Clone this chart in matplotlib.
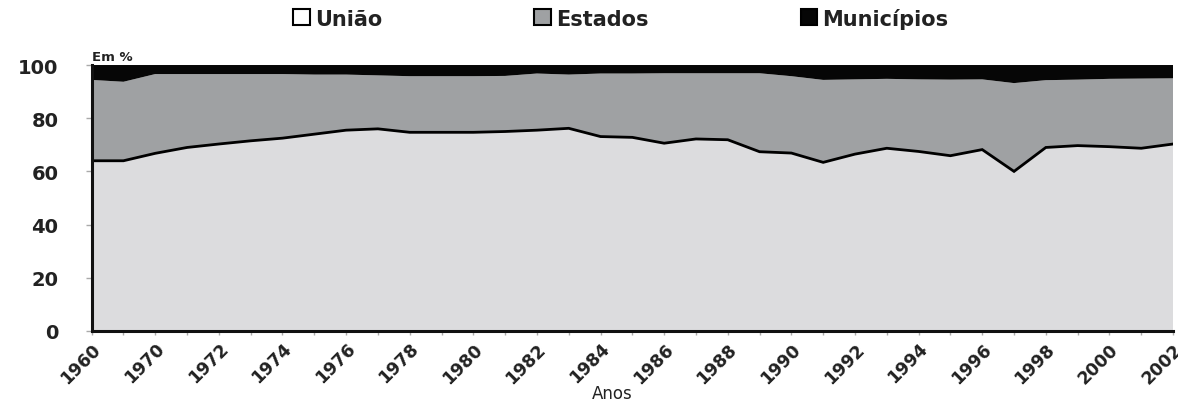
import matplotlib
matplotlib.use("Agg")
import matplotlib.pyplot as plt
from matplotlib.patches import Patch
import numpy as np

# Participação de cada esfera de governo na receita (em %)
anos = ["1960", "1965"] + [str(a) for a in range(1970, 2003)]

uniao = [64.0, 64.0, 66.8, 69.0, 70.3, 71.5, 72.5, 74.0, 75.5, 76.0,
         74.7, 74.7, 74.7, 75.0, 75.5, 76.2, 73.1, 72.8, 70.6, 72.2,
         71.9, 67.4, 66.9, 63.4, 66.5, 68.7, 67.5, 65.9, 68.2, 60.0,
         69.0, 69.7, 69.3, 68.7, 70.3]

estados = [30.4, 29.7, 29.8, 27.6, 26.3, 25.1, 24.1, 22.4, 20.9, 20.1,
           21.1, 21.1, 21.1, 20.9, 21.3, 20.2, 23.7, 24.0, 26.3, 24.7,
           25.0, 29.5, 28.9, 31.0, 28.1, 26.1, 27.1, 28.6, 26.4, 33.2,
           25.3, 24.8, 25.5, 26.2, 24.7]

municipios = [5.6, 6.3, 3.4, 3.4, 3.4, 3.4, 3.4, 3.6, 3.6, 3.9,
              4.2, 4.2, 4.2, 4.1, 3.2, 3.6, 3.2, 3.2, 3.1, 3.1,
              3.1, 3.1, 4.2, 5.6, 5.4, 5.2, 5.4, 5.5, 5.4, 6.8,
              5.7, 5.5, 5.2, 5.1, 5.0]

series_nomes = ["União", "Estados", "Municípios"]
cores = ["#dcdcde", "#9fa1a3", "#060606"]
yticks = [0, 20, 40, 60, 80, 100]

plt.rcParams["font.family"] = ["DejaVu Sans"]

fig = plt.figure(figsize=(11.78, 4.06), dpi=100)
ax = fig.add_axes([0.0778, 0.1823, 0.9180, 0.6551])

x = np.arange(len(anos))
ax.stackplot(x, uniao, estados, municipios, colors=cores, linewidth=0)
ax.plot(x, uniao, color="black", lw=2.0, solid_joinstyle="miter")

ax.set_xlim(0, len(anos) - 1)
ax.set_ylim(0, 100)

ax.set_xticks(x)
ax.set_xticklabels([a if i % 2 == 0 else "" for i, a in enumerate(anos)],
                   rotation=45, ha="right", rotation_mode="anchor",
                   fontsize=12.5, fontweight="bold", color="#222222")
ax.set_yticks(yticks)
ax.set_yticklabels([str(v) for v in yticks], fontsize=14,
                   fontweight="bold", color="#222222")
ax.tick_params(axis="x", length=3, width=1, color="#aaaaaa", pad=3)
ax.tick_params(axis="y", length=4, width=1, color="#aaaaaa", pad=20)

for s in ["top", "right"]:
    ax.spines[s].set_visible(False)
for s in ["left", "bottom"]:
    ax.spines[s].set_linewidth(2.2)
    ax.spines[s].set_color("#111111")

ax.text(0.0, 1.008, "Em %", transform=ax.transAxes, fontsize=9.5,
        fontweight="bold", color="#222222", ha="left", va="bottom")

ax.set_xlabel("Anos", fontsize=12, color="#222222", va="center")
ax.xaxis.set_label_coords(0.481, -0.235)

handles = [Patch(facecolor=c, edgecolor="black", linewidth=1.5) for c in
           ["#ffffff", cores[1], cores[2]]]
fig.legend(handles, series_nomes, loc="upper center", ncol=3,
           bbox_to_anchor=(0.527, 1.025), frameon=False,
           prop={"size": 15, "weight": "bold"}, handlelength=0.8,
           handleheight=0.8, handletextpad=0.25, columnspacing=7.3,
           labelcolor="#222222")

fig.savefig("out.png", dpi=100)
